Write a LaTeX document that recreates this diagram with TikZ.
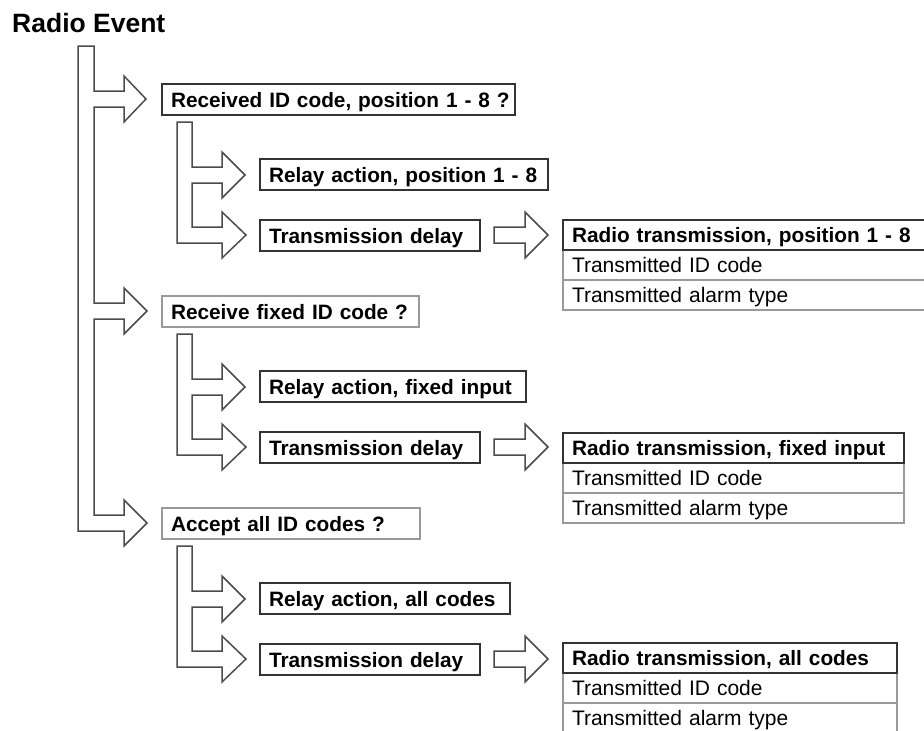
\documentclass[tikz,border=0pt]{standalone}
\usepackage{fontspec}
\setmainfont{Liberation Sans}
\usetikzlibrary{positioning}

\newcommand{\boxfont}{\fontsize{20.8}{25}\selectfont}
\newcommand{\rowfont}{\fontsize{21}{25}\selectfont}

\begin{document}
\begin{tikzpicture}[
    x=1pt, y=-1pt,
    box/.style={
        draw=black!80, line width=1.3pt, fill=white,
        anchor=north west, minimum height=31pt,
        inner xsep=9pt, inner ysep=0pt, outer sep=0pt, align=left,
        text height=19pt, text depth=4pt,
        font=\boxfont\bfseries,
        execute at begin node={\leavevmode\hbox\bgroup},
        execute at end node={\egroup}
    },
    qbox/.style={box, draw=black!40},
    head/.style={box, minimum height=30pt, text height=18pt},
    row/.style={box, draw=black!40, minimum height=30pt,
        text height=18pt, font=\rowfont},
    hollow/.style={draw=black!70, line width=1.5pt, fill=white,
        line join=miter}
]
\useasboundingbox (0,0) rectangle (924,731);

%% ── Nadpis ───────────────────────────────────────────────────────
\node[anchor=base west, inner sep=0pt, font=\fontsize{26.5}{30}\selectfont\bfseries]
    (title) at (12,32) {Radio Event};

%% ── Hlavná vetva ─────────────────────────────────────────────────
\draw[hollow] (78,46) -- (94,46) -- (94,91) -- (124,91) -- (124,76)
    -- (146,99) -- (124,122) -- (124,107) -- (94,107)
    -- (94,303) -- (124,303) -- (124,288) -- (147,311) -- (124,334)
    -- (124,319) -- (94,319)
    -- (94,515) -- (124,515) -- (124,500) -- (147,523) -- (124,546)
    -- (124,531) -- (78,531) -- cycle;

%% ── Podvetvy ─────────────────────────────────────────────────────
\foreach \o in {0,212,424} {
    \draw[hollow] (177,122+\o) -- (192,122+\o) -- (192,167+\o)
        -- (222,167+\o) -- (222,152+\o) -- (245,175+\o) -- (222,198+\o)
        -- (222,183+\o) -- (192,183+\o) -- (192,227+\o) -- (222,227+\o)
        -- (222,212+\o) -- (246,235+\o) -- (222,258+\o) -- (222,243+\o)
        -- (177,243+\o) -- cycle;
    \draw[hollow] (494,227+\o) -- (525,227+\o) -- (525,212+\o)
        -- (548,235+\o) -- (525,258+\o) -- (525,243+\o)
        -- (494,243+\o) -- cycle;
}

%% ── Otázky ───────────────────────────────────────────────────────
\node[box,  text width=335pt] (q1) at (162,84)  {Received ID code, position 1 - 8 ?};
\node[qbox, text width=239pt] (q2) at (162,296) {Receive fixed ID code ?};
\node[qbox, text width=240pt] (q3) at (162,508) {Accept all ID codes ?};

%% ── Akcie relé a oneskorenie ─────────────────────────────────────
\node[box, text width=270pt] (relay1) at (260,159) {Relay action, position 1 - 8};
\node[box, text width=202pt] (delay1) at (260,220) {Transmission delay};
\node[box, text width=248pt] (relay2) at (260,371) {Relay action, fixed input};
\node[box, text width=202pt] (delay2) at (260,432) {Transmission delay};
\node[box, text width=232pt] (relay3) at (260,583) {Relay action, all codes};
\node[box, text width=202pt] (delay3) at (260,644) {Transmission delay};

%% ── Tabuľky vysielania ───────────────────────────────────────────
\node[row, text width=354pt] (tx1id) at (563,250) {Transmitted ID code};
\node[row, text width=354pt, below=0pt of tx1id.south west, anchor=north west]
    (tx1al) {Transmitted alarm type};
\node[head, text width=354pt] (tx1) at (563,220) {Radio transmission, position 1 - 8};

\node[row, text width=323pt] (tx2id) at (563,463) {Transmitted ID code};
\node[row, text width=323pt, below=0pt of tx2id.south west, anchor=north west]
    (tx2al) {Transmitted alarm type};
\node[head, text width=323pt] (tx2) at (563,433) {Radio transmission, fixed input};

\node[row, text width=316pt] (tx3id) at (563,673) {Transmitted ID code};
\node[row, text width=316pt, below=0pt of tx3id.south west, anchor=north west]
    (tx3al) {Transmitted alarm type};
\node[head, text width=316pt] (tx3) at (563,643) {Radio transmission, all codes};

\end{tikzpicture}
\end{document}
